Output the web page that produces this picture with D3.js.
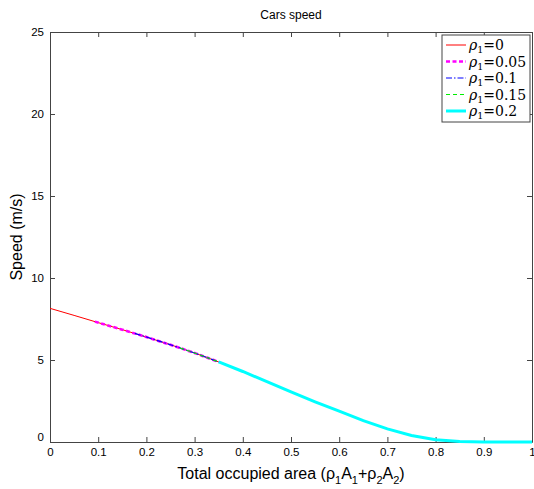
<!DOCTYPE html>
<html>
<head>
<meta charset="utf-8">
<script src="https://cdn.jsdelivr.net/npm/d3@7"></script>
<style>
  body { margin: 0; background: #fff; }
  svg { display: block; font-family: "Liberation Sans", Arial, sans-serif; }
</style>
</head>
<body>
<div id="chart"></div>
<script>
// values
const xTicks = [0, 0.1, 0.2, 0.3, 0.4, 0.5, 0.6, 0.7, 0.8, 0.9, 1];
const yTicks = [0, 5, 10, 15, 20, 25];

const area0 = [0, 0.05, 0.1, 0.15, 0.2, 0.25, 0.3, 0.35];
const speed0 = [8.15, 7.72, 7.28, 6.85, 6.4, 5.93, 5.43, 4.88];

const area05 = [0.093, 0.15, 0.2, 0.25, 0.3, 0.35];
const speed05 = [7.34, 6.85, 6.4, 5.93, 5.43, 4.88];

const area1 = [0.176, 0.2, 0.25, 0.3, 0.35];
const speed1 = [6.62, 6.4, 5.93, 5.43, 4.88];

const area15 = [0.27, 0.3, 0.35];
const speed15 = [5.73, 5.43, 4.88];

const area2 = [0.35, 0.4, 0.45, 0.5, 0.55, 0.6, 0.65, 0.7, 0.75, 0.8, 0.85, 0.9, 0.95, 1];
const speed2 = [4.88, 4.3, 3.68, 3.05, 2.45, 1.88, 1.3, 0.8, 0.4, 0.14, 0.03, 0.0, 0.0, 0.0];

const seriesNames = ["0", "0.05", "0.1", "0.15", "0.2"];

const width = 534;
const height = 489;
const margin = { top: 32, right: 2, bottom: 47, left: 50 };
const plotW = width - margin.left - margin.right;
const plotH = height - margin.top - margin.bottom;

const series = [
  { name: seriesNames[0], xs: area0, ys: speed0, color: "#ff0000", w: 1, dash: null },
  { name: seriesNames[1], xs: area05, ys: speed05, color: "#ff00ff", w: 2.6, dash: "4,2.5" },
  { name: seriesNames[2], xs: area1, ys: speed1, color: "#0000ff", w: 1.2, dash: "6,2,1.5,2" },
  { name: seriesNames[3], xs: area15, ys: speed15, color: "#00ee00", w: 1.2, dash: "4,3" },
  { name: seriesNames[4], xs: area2, ys: speed2, color: "#00ffff", w: 3, dash: null }
];

const x = d3.scaleLinear().domain([0, 1]).range([0, plotW]);
const y = d3.scaleLinear().domain([0, 25]).range([plotH, 0]);

const svg = d3.select("#chart").append("svg")
  .attr("width", width)
  .attr("height", height);

const g = svg.append("g").attr("transform", `translate(${margin.left},${margin.top})`);

const axisColor = "#444";

// axes with inward ticks, mirrored on top/right
const xAxis = g.append("g")
  .attr("transform", `translate(0,${plotH})`)
  .call(d3.axisBottom(x).tickValues(xTicks).tickSizeInner(-5).tickSizeOuter(0).tickPadding(6)
    .tickFormat(d => d === 0 || d === 1 ? d3.format("d")(d) : d3.format(".1f")(d)));

const xTop = g.append("g")
  .call(d3.axisTop(x).tickValues(xTicks).tickSizeInner(-5).tickSizeOuter(0).tickFormat(""));

const yAxis = g.append("g")
  .call(d3.axisLeft(y).tickValues(yTicks).tickSizeInner(-5).tickSizeOuter(0).tickPadding(6));

const yRight = g.append("g")
  .attr("transform", `translate(${plotW},0)`)
  .call(d3.axisRight(y).tickValues(yTicks).tickSizeInner(-5).tickSizeOuter(0).tickFormat(""));

[xAxis, xTop, yAxis, yRight].forEach(a => {
  a.select(".domain").attr("stroke", axisColor);
  a.selectAll(".tick line").attr("stroke", axisColor);
  a.selectAll("text").attr("fill", "#000").attr("font-size", 11.5).attr("font-family", "Liberation Sans, Arial, sans-serif");
});
yAxis.selectAll(".tick").filter(d => d === 0).select("text").attr("dy", "-0.1em");

// curves
const line = d3.line().x(d => x(d[0])).y(d => y(d[1]));

series.forEach(s => {
  g.append("path")
    .datum(s.xs.map((v, i) => [v, s.ys[i]]))
    .attr("d", line)
    .attr("fill", "none")
    .attr("stroke", s.color)
    .attr("stroke-width", s.w)
    .attr("stroke-dasharray", s.dash);
});

// title and labels
svg.append("text")
  .attr("x", margin.left + plotW / 2)
  .attr("y", 19)
  .attr("text-anchor", "middle")
  .attr("font-size", 12)
  .text("Cars speed");

const xl = svg.append("text")
  .attr("x", margin.left + plotW / 2)
  .attr("y", 479)
  .attr("text-anchor", "middle")
  .attr("font-size", 16);
xl.append("tspan").text("Total occupied area (ρ");
xl.append("tspan").attr("font-size", 11).attr("dy", 5).text("1");
xl.append("tspan").attr("dy", -5).text("A");
xl.append("tspan").attr("font-size", 11).attr("dy", 5).text("1");
xl.append("tspan").attr("dy", -5).text("+ρ");
xl.append("tspan").attr("font-size", 11).attr("dy", 5).text("2");
xl.append("tspan").attr("dy", -5).text("A");
xl.append("tspan").attr("font-size", 11).attr("dy", 5).text("2");
xl.append("tspan").attr("dy", -5).text(")");

svg.append("text")
  .attr("transform", `translate(22,${margin.top + plotH / 2}) rotate(-90)`)
  .attr("text-anchor", "middle")
  .attr("font-size", 16)
  .text("Speed (m/s)");

// legend
const lg = svg.append("g").attr("transform", "translate(442,35)");
lg.append("rect")
  .attr("width", 88)
  .attr("height", 87)
  .attr("fill", "#fff")
  .attr("stroke", axisColor)
  .attr("stroke-width", 1);

series.forEach((s, i) => {
  const yy = 10 + i * 16.5;
  lg.append("line")
    .attr("x1", 4).attr("x2", 24)
    .attr("y1", yy).attr("y2", yy)
    .attr("stroke", s.color)
    .attr("stroke-width", s.w)
    .attr("stroke-dasharray", s.dash);
  const t = lg.append("text")
    .attr("x", 27)
    .attr("y", yy + 5)
    .attr("font-size", 14)
    .attr("font-family", "DejaVu Serif, serif");
  t.append("tspan").attr("font-style", "italic").text("ρ");
  t.append("tspan").attr("font-size", 9.5).attr("dy", 3).text("1");
  t.append("tspan").attr("dy", -3).text("=" + s.name);
});
</script>
</body>
</html>
